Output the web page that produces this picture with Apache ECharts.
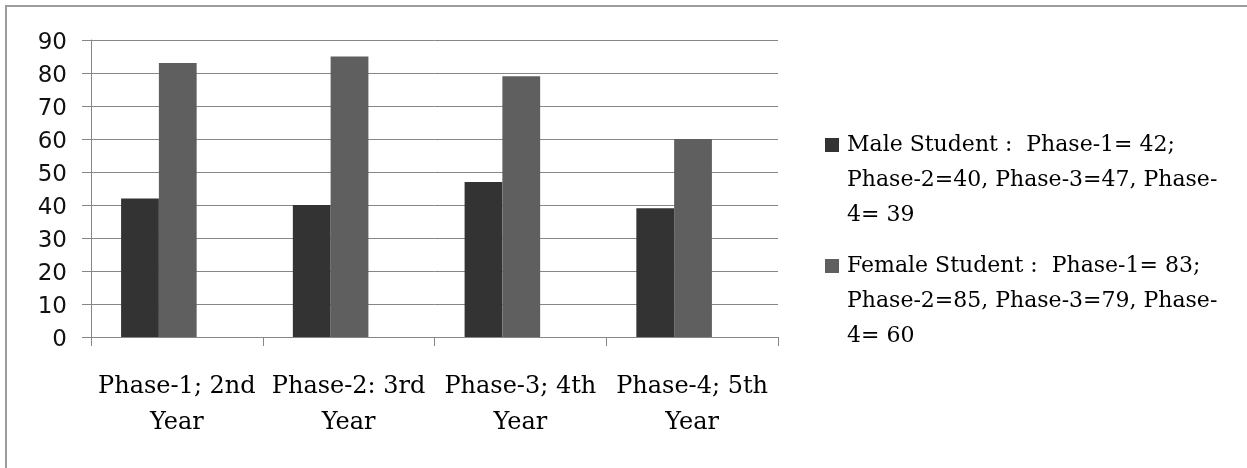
<!DOCTYPE html>
<html>
<head>
<meta charset="utf-8">
<script src="https://cdn.jsdelivr.net/npm/echarts@6/dist/echarts.min.js"></script>
<style>
  html, body { margin: 0; padding: 0; background: #ffffff; }
  #chart { width: 1247px; height: 468px; }
</style>
</head>
<body>
<div id="chart"></div>
<script>
// Study phases (x categories)
const categories = ['Phase-1; 2nd\nYear', 'Phase-2: 3rd\nYear', 'Phase-3; 4th\nYear', 'Phase-4; 5th\nYear'];
// Student counts per phase
const maleValues = [42, 40, 47, 39];
const femaleValues = [83, 85, 79, 60];
// Value axis range
const yMin = 0;
const yMax = 90;
const yStep = 10;

function legendLabel(who, v) {
  return who + ' Student :  Phase-1= ' + v[0] + ';\n' +
    'Phase-2=' + v[1] + ', Phase-3=' + v[2] + ', Phase-\n' +
    '4= ' + v[3];
}
const maleName = legendLabel('Male', maleValues);
const femaleName = legendLabel('Female', femaleValues);

const serif = 'DejaVu Serif';
const gridColor = '#868686';
const lineH = 35;
const iconSize = 14;

function legendFor(name, iconTop) {
  // two blank lines are put above the text so its first line sits beside the icon
  const boxH = 5 * lineH;
  return {
    data: [name],
    orient: 'vertical',
    left: 825,
    top: iconTop + iconSize / 2 - boxH / 2,
    padding: 0,
    icon: 'rect',
    itemWidth: iconSize,
    itemHeight: iconSize,
    selectedMode: false,
    formatter: function (n) {
      return '\n\n' + n.split('\n').map(function (s) { return '{t|' + s + '}'; }).join('\n');
    },
    textStyle: {
      fontFamily: serif,
      fontSize: 22,
      color: '#000',
      lineHeight: lineH,
      rich: {
        t: {
          fontFamily: serif,
          fontSize: 22,
          color: '#000',
          lineHeight: lineH,
          padding: [0, 0, 0, 3]
        }
      }
    }
  };
}

const chart = echarts.init(document.getElementById('chart'), null, { renderer: 'canvas' });
chart.setOption({
  backgroundColor: '#ffffff',
  animation: false,
  graphic: [{
    type: 'rect',
    shape: { x: 6, y: 6, width: 1300, height: 520 },
    style: { fill: 'none', stroke: '#9c9c9c', lineWidth: 2 },
    silent: true,
    z: 100
  }],
  legend: [legendFor(maleName, 138), legendFor(femaleName, 259)],
  grid: [
    { left: 91, top: 40, width: 687, height: 297 },
    { left: 73, top: 40, width: 687, height: 297 }
  ],
  xAxis: [{
    type: 'category',
    gridIndex: 0,
    data: categories,
    axisLine: { lineStyle: { color: gridColor, width: 1 } },
    axisTick: { show: true, length: 9, lineStyle: { color: gridColor } },
    axisLabel: {
      fontFamily: serif,
      fontSize: 24,
      color: '#000',
      lineHeight: 36,
      margin: 32,
      interval: 0
    }
  }, {
    type: 'category',
    gridIndex: 1,
    data: categories,
    show: false
  }],
  yAxis: [{
    type: 'value',
    gridIndex: 0,
    min: yMin,
    max: yMax,
    interval: yStep,
    axisLine: { show: true, lineStyle: { color: gridColor, width: 1 } },
    axisTick: { show: true, length: 9, lineStyle: { color: gridColor } },
    splitLine: { show: true, lineStyle: { color: gridColor, width: 1 } },
    axisLabel: {
      margin: 24,
      formatter: function (v) { return '{t|' + v + '}'; },
      rich: {
        t: {
          fontFamily: 'DejaVu Sans',
          fontSize: 23,
          color: '#111',
          padding: [7, 0, 0, 0]
        }
      }
    }
  }, {
    type: 'value',
    gridIndex: 1,
    min: yMin,
    max: yMax,
    interval: yStep,
    show: false,
    splitLine: { show: false }
  }],
  series: [{
    name: maleName,
    type: 'bar',
    xAxisIndex: 1,
    yAxisIndex: 1,
    data: maleValues,
    barGap: '0%',
    barCategoryGap: '56%',
    itemStyle: { color: '#333333' }
  }, {
    name: femaleName,
    type: 'bar',
    xAxisIndex: 1,
    yAxisIndex: 1,
    data: femaleValues,
    barGap: '0%',
    barCategoryGap: '56%',
    itemStyle: { color: '#5f5f5f' }
  }]
});
</script>
</body>
</html>
